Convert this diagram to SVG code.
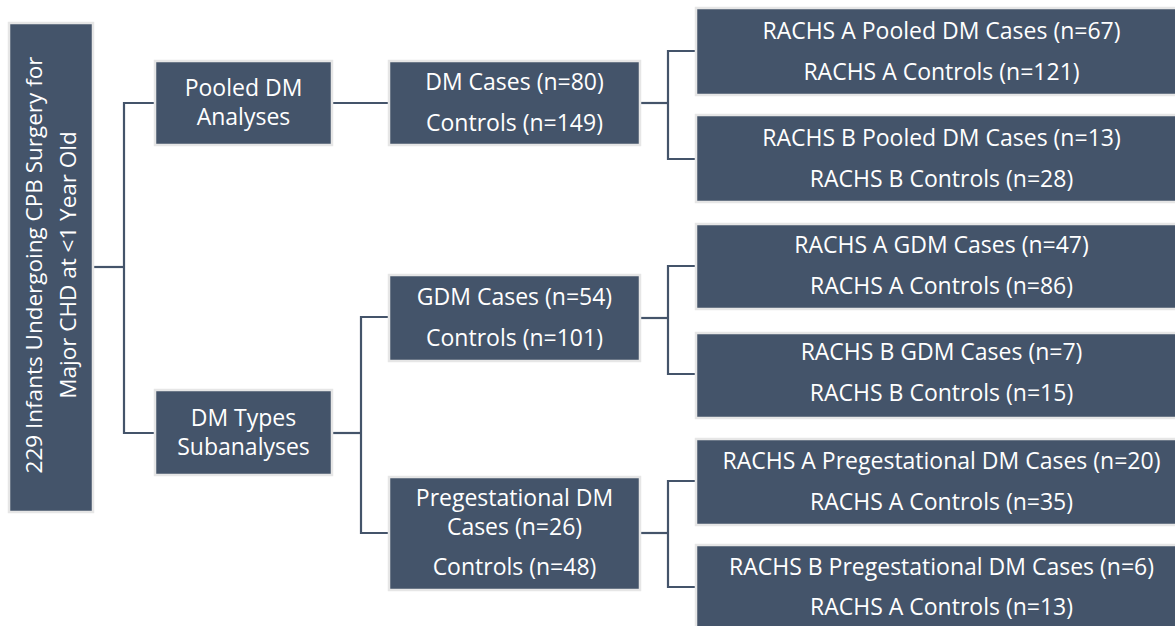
<svg xmlns="http://www.w3.org/2000/svg" width="1175" height="626" viewBox="0 0 1175 626">
<style>
.box{fill:#44546A;stroke:#E6E6E6;stroke-width:2.5}
.t{font-family:"Open Sans","Liberation Sans",sans-serif;font-size:23px;fill:#FFFFFF;text-anchor:middle}
.c{fill:none;stroke:#44546A;stroke-width:2.2}
</style>
<rect width="1175" height="626" fill="#FFFFFF"/>
<g id="connectors">
<polyline class="c" points="94,267 124,267"/>
<polyline class="c" points="154,103 124,103 124,433 154,433"/>
<polyline class="c" points="333,103 388,103"/>
<polyline class="c" points="641,103 668,103"/>
<polyline class="c" points="696,51 668,51 668,159 696,159"/>
<polyline class="c" points="333,433 361,433"/>
<polyline class="c" points="388,317 361,317 361,533 388,533"/>
<polyline class="c" points="641,318 668,318"/>
<polyline class="c" points="696,266 668,266 668,374 696,374"/>
<polyline class="c" points="641,533 668,533"/>
<polyline class="c" points="696,481 668,481 668,587 696,587"/>
</g>
<g id="root">
<rect class="box" x="9" y="23" width="84" height="489"/>
<g transform="translate(49,265) rotate(-90)">
<text class="t" x="0" y="-7" style="font-size:22.5px">229 Infants Undergoing CPB Surgery for</text>
<text class="t" x="0" y="27" style="font-size:22.5px">Major CHD at &lt;1 Year Old</text>
</g>
</g>
<g id="pooled">
<rect class="box" x="155" y="61" width="177" height="84"/>
<text class="t" x="243.5" y="96">Pooled DM</text>
<text class="t" x="243.5" y="125">Analyses</text>
</g>
<g id="types">
<rect class="box" x="155" y="390" width="177" height="85"/>
<text class="t" x="243.5" y="426">DM Types</text>
<text class="t" x="243.5" y="455">Subanalyses</text>
</g>
<g id="dmcases">
<rect class="box" x="389" y="61" width="251" height="84"/>
<text class="t" x="514.5" y="90">DM Cases (n=80)</text>
<text class="t" x="514.5" y="131">Controls (n=149)</text>
</g>
<g id="gdmcases">
<rect class="box" x="389" y="275" width="251" height="86"/>
<text class="t" x="514.5" y="305">GDM Cases (n=54)</text>
<text class="t" x="514.5" y="346">Controls (n=101)</text>
</g>
<g id="pregcases">
<rect class="box" x="389" y="477" width="251" height="113"/>
<text class="t" x="514.5" y="506">Pregestational DM</text>
<text class="t" x="514.5" y="535">Cases (n=26)</text>
<text class="t" x="514.5" y="575">Controls (n=48)</text>
</g>
<g id="pooledA">
<rect class="box" x="696" y="8" width="492" height="87"/>
<text class="t" x="941.5" y="39">RACHS A Pooled DM Cases (n=67)</text>
<text class="t" x="941.5" y="80">RACHS A Controls (n=121)</text>
</g>
<g id="pooledB">
<rect class="box" x="696" y="115" width="492" height="87"/>
<text class="t" x="941.5" y="146">RACHS B Pooled DM Cases (n=13)</text>
<text class="t" x="941.5" y="187">RACHS B Controls (n=28)</text>
</g>
<g id="gdmA">
<rect class="box" x="696" y="224" width="492" height="85"/>
<text class="t" x="941.5" y="253">RACHS A GDM Cases (n=47)</text>
<text class="t" x="941.5" y="294">RACHS A Controls (n=86)</text>
</g>
<g id="gdmB">
<rect class="box" x="696" y="333" width="492" height="85"/>
<text class="t" x="941.5" y="360">RACHS B GDM Cases (n=7)</text>
<text class="t" x="941.5" y="401">RACHS B Controls (n=15)</text>
</g>
<g id="pregA">
<rect class="box" x="696" y="439" width="492" height="86"/>
<text class="t" x="941.5" y="469">RACHS A Pregestational DM Cases (n=20)</text>
<text class="t" x="941.5" y="510">RACHS A Controls (n=35)</text>
</g>
<g id="pregB">
<rect class="box" x="696" y="545" width="492" height="88"/>
<text class="t" x="941.5" y="575">RACHS B Pregestational DM Cases (n=6)</text>
<text class="t" x="941.5" y="615">RACHS A Controls (n=13)</text>
</g>
</svg>
